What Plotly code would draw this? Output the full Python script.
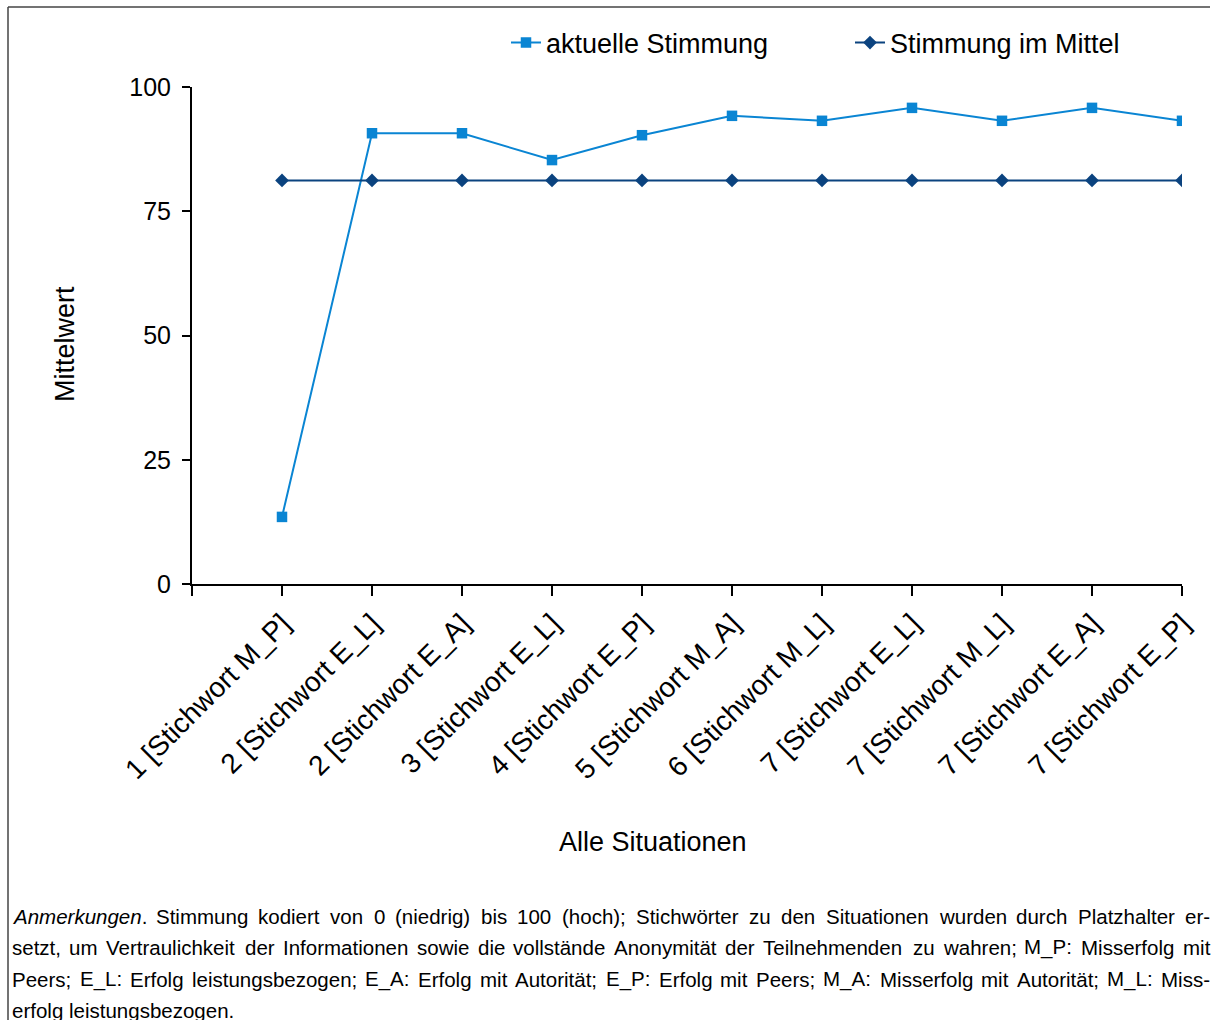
import plotly.graph_objects as go

# ---------------- data ----------------
situationen = [
    "1 [Stichwort M_P]", "2 [Stichwort E_L]", "2 [Stichwort E_A]", "3 [Stichwort E_L]",
    "4 [Stichwort E_P]", "5 [Stichwort M_A]", "6 [Stichwort M_L]", "7 [Stichwort E_L]",
    "7 [Stichwort M_L]", "7 [Stichwort E_A]", "7 [Stichwort E_P]",
]
positionen = [0, 1, 2, 3, 4, 5, 6, 7, 8, 9, 10]
aktuelle_stimmung = [13.5, 90.7, 90.7, 85.3, 90.3, 94.2, 93.2, 95.8, 93.2, 95.8, 93.2]
stimmung_mittel = [81.2, 81.2, 81.2, 81.2, 81.2, 81.2, 81.2, 81.2, 81.2, 81.2, 81.2]
y_ticks = [0, 25, 50, 75, 100]

footer_lines = [
    "<i>Anmerkungen</i>. Stimmung kodiert von 0 (niedrig) bis 100 (hoch); Stichwörter zu den Situationen wurden durch Platzhalter er-",
    "setzt, um Vertraulichkeit der Informationen sowie die vollstände Anonymität der Teilnehmenden zu wahren; M_P: Misserfolg mit",
    "Peers; E_L: Erfolg leistungsbezogen; E_A: Erfolg mit Autorität; E_P: Erfolg mit Peers; M_A: Misserfolg mit Autorität; M_L: Miss-",
    "erfolg leistungsbezogen.",
]

# ---------------- layout constants ----------------
W, H = 1216, 1020
ML, MR, MT, MB = 192, 34, 87, 436
PW, PH = W - ML - MR, H - MT - MB
FONT = "Liberation Sans, Arial, sans-serif"
C_LIGHT = "#0a85d3"
C_DARK = "#0b437f"


def px_x(px):
    return (px - ML) / PW


def px_y(py):
    return (H - MB - py) / PH


fig = go.Figure()
fig.add_trace(go.Scatter(
    x=positionen, y=aktuelle_stimmung, name="aktuelle Stimmung", mode="lines+markers",
    line=dict(color=C_LIGHT, width=2), marker=dict(symbol="square", size=10.5, color=C_LIGHT),
))
fig.add_trace(go.Scatter(
    x=positionen, y=stimmung_mittel, name="Stimmung im Mittel", mode="lines+markers",
    line=dict(color=C_DARK, width=2), marker=dict(symbol="diamond", size=10.5, color=C_DARK),
))

fig.update_layout(
    width=W, height=H, autosize=False,
    margin=dict(l=ML, r=MR, t=MT, b=MB, pad=0, autoexpand=False),
    paper_bgcolor="white", plot_bgcolor="white",
    font=dict(family=FONT, color="black", size=26),
    showlegend=True,
    legend=dict(
        orientation="h", xref="paper", yref="paper",
        x=px_x(506), xanchor="left", y=px_y(43), yanchor="middle",
        font=dict(size=27), entrywidth=299, entrywidthmode="pixels",
        bgcolor="rgba(0,0,0,0)",
    ),
)

fig.update_xaxes(
    range=[-1, 10], tickmode="array", tickvals=[-1] + positionen, ticktext=[""] + situationen,
    tickangle=-45, tickfont=dict(size=28), ticks="outside", ticklen=10, tickwidth=2,
    tickcolor="black", showline=True, linewidth=2, linecolor="black",
    showgrid=False, zeroline=False, automargin=False,
)
fig.update_yaxes(
    range=[0, 100], tickmode="array", tickvals=y_ticks, tickfont=dict(size=25),
    ticks="outside", ticklen=8, tickwidth=2, tickcolor="black",
    showline=True, linewidth=2, linecolor="black", showgrid=False, zeroline=False,
    ticklabelstandoff=6, automargin=False,
)

# axis titles as annotations
fig.add_annotation(text="Mittelwert", xref="paper", yref="paper", x=px_x(65), y=px_y(344),
                   textangle=-90, showarrow=False, font=dict(size=27), xanchor="center", yanchor="middle")
fig.add_annotation(text="Alle Situationen", xref="paper", yref="paper", x=px_x(653), y=px_y(842),
                   showarrow=False, font=dict(size=27), xanchor="center", yanchor="middle")

# frame lines
fig.add_shape(type="line", xref="paper", yref="paper", x0=px_x(8), x1=px_x(8), y0=px_y(7), y1=px_y(1025),
              line=dict(color="#444444", width=1.5))
fig.add_shape(type="line", xref="paper", yref="paper", x0=px_x(8), x1=px_x(1210), y0=px_y(7), y1=px_y(7),
              line=dict(color="#444444", width=1.5))

# footer text, justified word by word (Helvetica/Arial advance widths)
CW = {' ': 278, '.': 278, ',': 278, ';': 278, ':': 278, '(': 333, ')': 333, '-': 333, '_': 556,
      '0': 556, '1': 556, '2': 556, '3': 556, '4': 556, '5': 556, '6': 556, '7': 556, '8': 556, '9': 556,
      'A': 667, 'B': 667, 'C': 722, 'D': 722, 'E': 667, 'F': 611, 'G': 778, 'H': 722, 'I': 278, 'J': 500,
      'K': 667, 'L': 556, 'M': 833, 'N': 722, 'O': 778, 'P': 667, 'Q': 778, 'R': 722, 'S': 667, 'T': 611,
      'U': 722, 'V': 667, 'W': 944, 'X': 667, 'Y': 667, 'Z': 611,
      'a': 556, 'b': 556, 'c': 500, 'd': 556, 'e': 556, 'f': 278, 'g': 556, 'h': 556, 'i': 222, 'j': 222,
      'k': 500, 'l': 222, 'm': 833, 'n': 556, 'o': 556, 'p': 556, 'q': 556, 'r': 333, 's': 500, 't': 278,
      'u': 556, 'v': 500, 'w': 722, 'x': 500, 'y': 500, 'z': 500, 'ä': 556, 'ö': 556, 'ü': 556}


def strip(s):
    return s.replace("<i>", "").replace("</i>", "")


def tw(s, size):
    return sum(CW.get(c, 556) for c in strip(s)) / 1000.0 * size


FS = 20.5
LEFT, RIGHT = 11, 1209
line_y = [916, 947, 979, 1010]
for i, line in enumerate(footer_lines):
    words = line.split(" ")
    if i < len(footer_lines) - 1 and len(words) > 1:
        total = sum(tw(w, FS) for w in words)
        gap = (RIGHT - LEFT - total) / (len(words) - 1)
    else:
        gap = tw(" ", FS)
    x = LEFT
    for w in words:
        fig.add_annotation(text=w, xref="paper", yref="paper", x=px_x(x), y=px_y(line_y[i]),
                           showarrow=False, xanchor="left", yanchor="middle",
                           font=dict(size=FS, color="black"), borderpad=0)
        x += tw(w, FS) + gap

fig.write_html(
    "out.html",
    config={"displayModeBar": False},
    post_script="document.body.style.margin='0px';document.body.style.overflow='hidden';",
)
